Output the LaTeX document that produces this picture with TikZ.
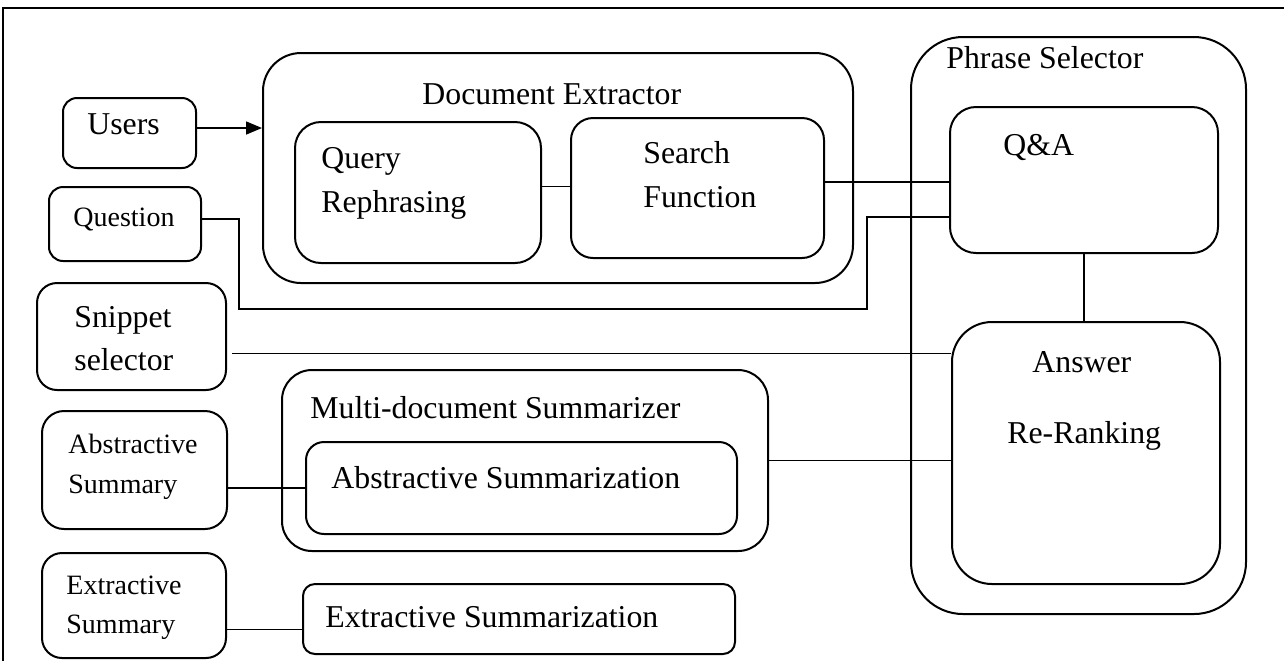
\documentclass[tikz,border=0pt]{standalone}
\usepackage{fontspec}
\setmainfont{Liberation Serif}
\usetikzlibrary{calc, fit, arrows.meta}
\tikzstyle{box}=[draw, line width=1pt, inner sep=0pt]
\tikzstyle{lbl}=[anchor=base west, inner sep=0pt, font=\fontsize{15.9}{18}\selectfont]
\tikzstyle{lblsmall}=[anchor=base west, inner sep=0pt, font=\fontsize{14}{16}\selectfont]
\tikzstyle{wire}=[line width=0.8pt]

\begin{document}
\begin{tikzpicture}[x=0.5pt, y=-0.5pt]
				\useasboundingbox (0,0) rectangle (1284,661);
				% Page frame
				\draw[line width=1.3pt] (1284,8) -- (3,8) -- (3,661);

				% Containers
				\node[box, rounded corners=19pt, fit={(263,53) (853,283)}] (docex) {};
				\node[box, rounded corners=26pt, fit={(911,37) (1246,614)}] (phrase) {};
				\node[box, rounded corners=15pt, fit={(282,370) (768,551)}] (multi) {};

				% Inner blocks
				\node[box, rounded corners=13pt, fit={(295,122) (541,263)}] (qr) {};
				\node[box, rounded corners=11pt, fit={(571,118) (824,258)}] (sf) {};
				\node[box, rounded corners=13pt, fit={(950,107) (1218,253)}] (qa) {};
				\node[box, rounded corners=20pt, fit={(952,322) (1220,584)}] (ans) {};
				\node[box, rounded corners=9pt, fit={(306,442) (737,534)}] (abs) {};
				\node[box, rounded corners=6pt, fit={(303,584) (735,654)}] (ext) {};

				% Left column
				\node[box, rounded corners=7pt, fit={(63,98) (196,168)}] (users) {};
				\node[box, rounded corners=7pt, fit={(49,187) (201,261)}] (question) {};
				\node[box, rounded corners=10pt, fit={(37,283) (226,390)}] (snippet) {};
				\node[box, rounded corners=11pt, fit={(42,411) (227,529)}] (abssum) {};
				\node[box, rounded corners=10pt, fit={(42,553) (226,658)}] (extsum) {};

				% Texts
				\node[lbl] (tdocex) at (422,104) {Document Extractor};
				\node[lbl] (tphrase) at (946,68) {Phrase Selector};
				\node[lbl] (tmulti) at (310,418) {Multi-document Summarizer};
				\node[lbl] (tqr1) at (321,168) {Query};
				\node[lbl] (tqr2) at (321,212) {Rephrasing};
				\node[lbl] (tsf1) at (643,163) {Search};
				\node[lbl] (tsf2) at (643,207) {Function};
				\node[lbl] (tqa) at (1003,155) {Q\&A};
				\node[lbl] (tans1) at (1032,372) {Answer};
				\node[lbl] (tans2) at (1007,443) {Re-Ranking};
				\node[lbl] (tabs) at (331,488) {Abstractive Summarization};
				\node[lbl] (text) at (325,627) {Extractive Summarization};
				\node[lbl] (tusers) at (87,134) {Users};
				\node[lblsmall] (tquestion) at (73,226) {Question};
				\node[lbl] (tsnip1) at (74,327) {Snippet};
				\node[lbl] (tsnip2) at (74,370) {selector};
				\node[lblsmall] (tabssum1) at (68,453) {Abstractive};
				\node[lblsmall] (tabssum2) at (68,493) {Summary};
				\node[lblsmall] (textsum1) at (66,594) {Extractive};
				\node[lblsmall] (textsum2) at (66,633) {Summary};

				% Connectors
				\draw[wire, -{Triangle[length=8pt, width=6.5pt]}] ($(users.east)+(0,-5)$) coordinate (usersout) -- (usersout -| docex.west);
				\draw[wire] ($(qr.east)+(0,-6)$) coordinate (qrout) -- (qrout -| sf.west);
				\draw[wire] ($(sf.east)+(0,-6)$) coordinate (sfout) -- (sfout -| qa.west);
				\coordinate (qbend1) at (239,309);
				\coordinate (qbend2) at (867,217);
				\draw[wire] ($(question.east)+(0,-5)$) -| (qbend1) -| (qbend2) -- (qbend2 -| qa.west);
				\draw[wire] (qa.south) -- (qa.south |- ans.north);
				\draw[wire] ($(snippet.east)+(5,17)$) coordinate (snipout) -- (snipout -| ans.west);
				\draw[wire] (multi.east) -- (multi.east -| ans.west);
				\draw[wire] ($(abssum.east)+(0,18)$) coordinate (absout) -- (absout -| abs.west);
				\draw[wire] ($(extsum.east)+(0,24)$) coordinate (extout) -- (extout -| ext.west);
\end{tikzpicture}
\end{document}
